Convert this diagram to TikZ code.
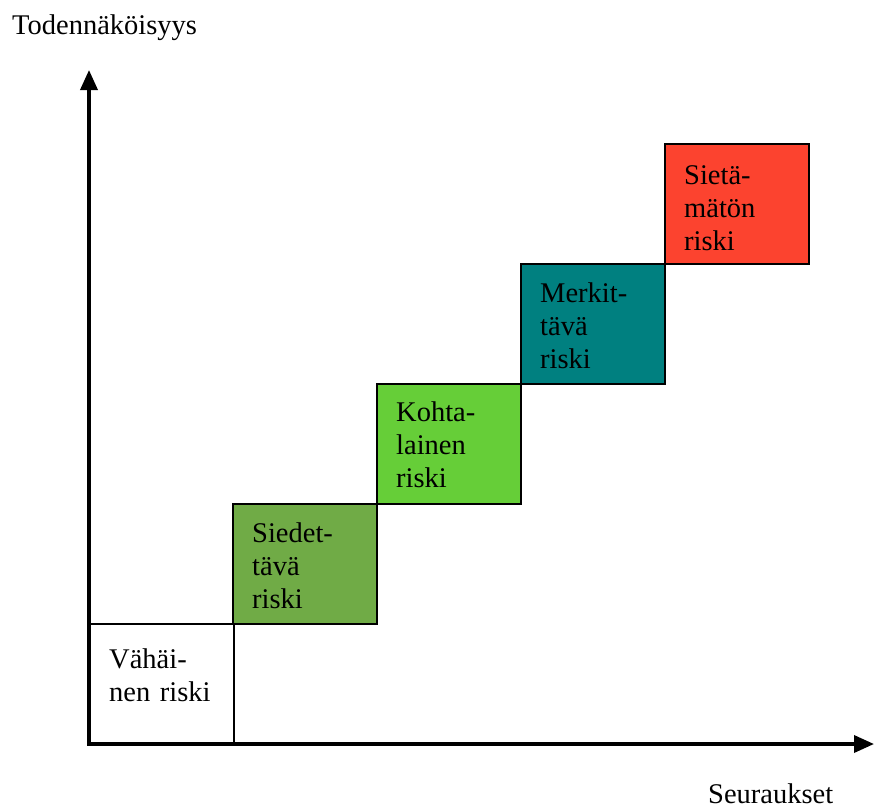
\documentclass[tikz,border=0pt]{standalone}
\usepackage{fontspec}
\setmainfont{Liberation Serif}
\newfontfamily\riskfont{Liberation Serif}
\usetikzlibrary{arrows.meta}

\definecolor{siedgreen}{RGB}{112,171,70}
\definecolor{kohtgreen}{RGB}{102,206,56}
\definecolor{merkteal}{RGB}{0,128,128}
\definecolor{sietred}{RGB}{252,67,47}

\begin{document}
\begin{tikzpicture}[x=1pt,y=-1pt,
  every node/.style={font=\riskfont\fontsize{28.5}{33}\selectfont},
  riskbox/.style={draw=black,line width=1.5pt,minimum width=144pt,minimum height=120pt,anchor=north west,inner sep=0pt},
  risktext/.style={anchor=base west,inner sep=0pt,text width=120pt,align=left},
  axis/.style={line width=3.5pt,-{Triangle[length=20pt,width=17pt]}}]

\useasboundingbox (0,0) rectangle (874,808);

% the boxes, one step up and right each
\node[riskbox,fill=white] (vahainen) at (89,623) {};
\node[riskbox,fill=siedgreen] (siedettava) at (232,503) {};
\node[riskbox,fill=kohtgreen] (kohtalainen) at (376,383) {};
\node[riskbox,fill=merkteal] (merkittava) at (520,263) {};
\node[riskbox,fill=sietred] (sietamaton) at (664,143) {};

\node[risktext] (vahainen-t) at ([shift={(20,45)}]vahainen.north west) {Vähäi-\\nen riski};
\node[risktext] (siedettava-t) at ([shift={(20,39)}]siedettava.north west) {Siedet-\\tävä\\riski};
\node[risktext] (kohtalainen-t) at ([shift={(20,38)}]kohtalainen.north west) {Kohta-\\lainen\\riski};
\node[risktext] (merkittava-t) at ([shift={(20,39)}]merkittava.north west) {Merkit-\\tävä\\riski};
\node[risktext] (sietamaton-t) at ([shift={(20,41)}]sietamaton.north west) {Sietä-\\mätön\\riski};

% axes
\coordinate (origin) at (89,744);
\coordinate (ytop) at (89,70);
\coordinate (xend) at (874,744);
\draw[axis] ([yshift=1.75pt]origin) -- (ytop);
\draw[axis] ([xshift=-1.75pt]origin) -- (xend);

\node[anchor=base west,inner sep=0pt] (ylabel) at (12,35) {Todennäköisyys};
\node[anchor=base west,inner sep=0pt] (xlabel) at (708,803) {Seuraukset};

\end{tikzpicture}
\end{document}
